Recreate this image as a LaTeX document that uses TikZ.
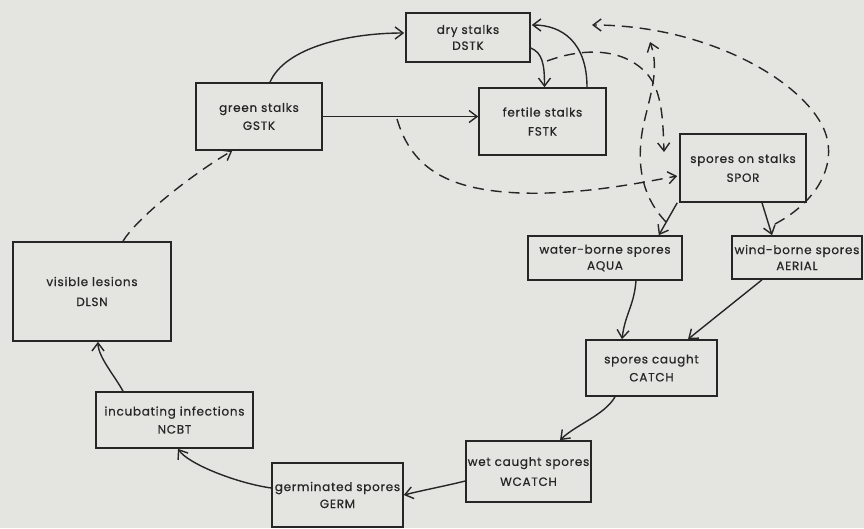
\documentclass[tikz,border=0pt]{standalone}
\usepackage{fontspec}
\setmainfont{Poppins}[LetterSpace=6,FakeBold=0.6]
\usetikzlibrary{arrows.meta,calc}
\definecolor{bg}{RGB}{228,228,224}
\definecolor{ink}{RGB}{38,38,38}
\begin{document}
\begin{tikzpicture}[x=1pt,y=-1pt,
  box/.style={draw=ink, line width=1.6pt, align=center, inner sep=0pt, text=ink,
    font=\fontsize{12}{18}\selectfont},
  flow/.style={draw=ink, line width=1.4pt, -{Straight Barb[length=8pt,width=12pt,line width=1.4pt]}},
  info/.style={flow, dash pattern=on 11pt off 7pt}]
\fill[bg] (0,0) rectangle (864,528);
\useasboundingbox (0,0) rectangle (864,528);

% boxes
\node[box, minimum width=124pt, minimum height=49pt] (dstk) at (468,37.5) {dry stalks\\[-2pt]DSTK};
\node[box, minimum width=126pt, minimum height=67pt] (gstk) at (259,116.5) {green stalks\\GSTK};
\node[box, minimum width=127pt, minimum height=67pt] (fstk) at (542.5,121.5) {fertile stalks\\[1pt]FSTK};
\node[box, minimum width=126pt, minimum height=68pt] (spor) at (743,168) {spores on stalks\\[1pt]SPOR};
\node[box, minimum width=154pt, minimum height=44pt] (aqua) at (605,258) {water-borne spores\\[-2pt]AQUA};
\node[box, minimum width=130pt, minimum height=43pt] (aerial) at (797,257.5) {wind-borne spores\\[-2pt]AERIAL};
\node[box, minimum width=131pt, minimum height=56pt] (catch) at (651.5,368) {spores caught\\CATCH};
\node[box, minimum width=125pt, minimum height=61pt] (wcatch) at (528.5,471.5) {wet caught spores\\[2pt]WCATCH};
\node[box, minimum width=131pt, minimum height=64pt] (germ) at (337.5,495) {germinated spores\\[-1pt]GERM};
\node[box, minimum width=157pt, minimum height=56pt] (ncbt) at (174.5,420) {incubating infections\\NCBT};
\node[box, minimum width=158pt, minimum height=99pt] (dlsn) at (92,291.5) {visible lesions\\[2pt]DLSN};

% free ends of information links
\coordinate (gfmid) at (397,119);
\coordinate (dfmid) at (547,61);
\coordinate (aend) at (664,152);
\coordinate (saq) at (666,222);
\coordinate (bend) at (650,42);
\coordinate (sae) at (775,224);
\coordinate (loopend) at (592,25);

% solid flows
\draw[flow] ($(gstk.north)+(11,0)$) .. controls +(15,-35) and +(-55,0) .. ($(dstk.west)+(-1,-4.5)$);
\draw[flow] (gstk.east) -- (gstk.east -| fstk.west);
\draw[flow] ($(dstk.east)+(0,10.5)$) .. controls +(12,5) and +(0,-22) .. ($(fstk.north)+(2,0)$);
\draw[flow] ($(fstk.north)+(44.5,0)$) .. controls +(0,-45) and +(30,0) .. ($(dstk.east)+(1,-12.5)$);
\draw[flow] ($(spor.south west)+(-2,0)$) -- ($(aqua.north east)+(-24,0)$);
\draw[flow] ($(spor.south)+(19,0)$) -- ($(aerial.north)+(-25,0)$);
\draw[flow] ($(aqua.south)+(31,0)$) .. controls +(-2,25) and +(3,-25) .. ($(catch.north)+(-29.5,0)$);
\draw[flow] ($(aerial.south)+(-35,0)$) -- ($(catch.north)+(36.5,0)$);
\draw[flow] ($(catch.south)+(-36.5,0)$) .. controls +(-10,18) and +(15,-15) .. ($(wcatch.north)+(31.5,0)$);
\draw[flow] ($(wcatch.west)+(0,9.5)$) .. controls +(-20,5) and +(20,-5) .. (germ.east);
\draw[flow] ($(germ.west)+(0,-7)$) .. controls +(-35,-5) and +(10,15) .. ($(ncbt.south)+(3.5,0)$);
\draw[flow] ($(ncbt.north)+(-51.5,0)$) .. controls +(-8,-15) and +(0,15) .. ($(dlsn.south)+(6,0)$);

% dashed information links
\draw[info] ($(dlsn.north)+(31,0)$) .. controls +(15,-25) and +(-35,20) .. ($(gstk.south west)+(37,0)$);
\draw[info] (gfmid) .. controls (412,170) and (450,190) .. (520,193)
  .. controls (580,195) and (640,183) .. ($(spor.west)+(-2,8)$);
\draw[info] (dfmid) .. controls (585,47) and (625,48) .. (648,75)
  .. controls (662,92) and (663,120) .. (aend);
\draw[info] (saq) .. controls (645,200) and (635,170) .. (643,127)
  .. controls (650,95) and (660,70) .. (bend);
\draw[info] (sae) .. controls (820,200) and (840,160) .. (822,125)
  .. controls (795,75) and (700,25) .. (loopend);
\end{tikzpicture}
\end{document}
